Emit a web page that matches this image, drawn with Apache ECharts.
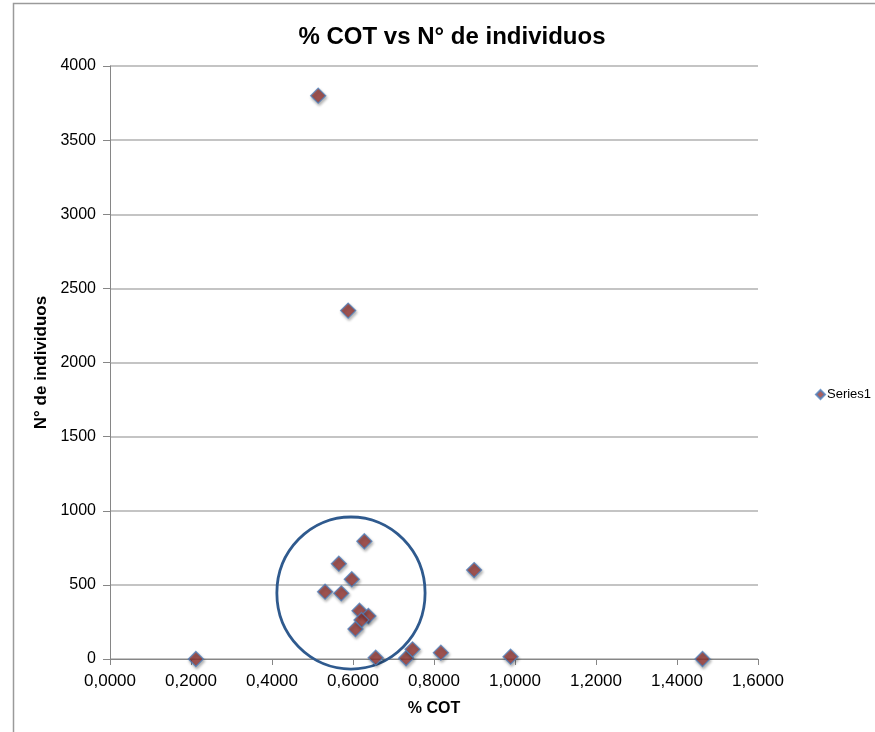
<!DOCTYPE html>
<html>
<head>
<meta charset="utf-8">
<script src="https://cdn.jsdelivr.net/npm/echarts@6/dist/echarts.min.js"></script>
<style>
html,body{margin:0;padding:0;background:#fff;}
#chart{width:875px;height:732px;}
</style>
</head>
<body>
<div id="chart"></div>
<script>
// Data
var cotValues = [0.514, 0.588, 0.212, 0.628, 0.565, 0.597, 0.531, 0.571, 0.616, 0.638, 0.621, 0.606, 0.656, 0.731, 0.747, 0.817, 0.899, 0.989, 1.463];
var individuos = [3800, 2350, 0, 794, 643, 538, 454, 443, 326, 290, 263, 202, 9, 5, 65, 43, 600, 16, 0];
var xTicks = [0, 0.2, 0.4, 0.6, 0.8, 1.0, 1.2, 1.4, 1.6];
var yTicks = [0, 500, 1000, 1500, 2000, 2500, 3000, 3500, 4000];
// highlight ellipse: centre x, centre y, radius x, radius y (data units)
var highlight = [[0.595, 445, 0.183, 513]];

var points = cotValues.map(function (v, i) { return [v, individuos[i]]; });

var chart = echarts.init(document.getElementById('chart'));
var font = 'Liberation Sans, Arial, sans-serif';
chart.setOption({
  animation: false,
  backgroundColor: '#fff',
  title: {
    text: '% COT vs N° de individuos',
    left: 447, top: 20, textAlign: 'center',
    textStyle: { fontFamily: font, fontSize: 24, fontWeight: 'bold', color: '#000' }
  },
  legend: {
    data: ['Series1'],
    orient: 'vertical',
    left: 810, top: 383,
    itemWidth: 9, itemHeight: 9, itemGap: 4,
    textStyle: { fontFamily: font, fontSize: 13, color: '#000', padding: [0, 0, 0, -3] }
  },
  grid: { left: 110, right: 117, top: 66, bottom: 73, containLabel: false },
  xAxis: {
    type: 'value', min: 0, max: 1.6, interval: 0.2,
    name: '% COT', nameLocation: 'middle', nameGap: 42,
    nameTextStyle: { fontFamily: font, fontSize: 16, fontWeight: 'bold', color: '#000' },
    axisLine: { show: true, lineStyle: { color: '#868686', width: 1 } },
    axisTick: { show: true, length: 6, lineStyle: { color: '#868686' } },
    splitLine: { show: false },
    axisLabel: {
      fontFamily: font, fontSize: 17, color: '#000', margin: 14,
      formatter: function (v) { return v.toFixed(4).replace('.', ','); }
    }
  },
  yAxis: {
    type: 'value', min: 0, max: 4000, interval: 500,
    name: 'N° de individuos', nameLocation: 'middle', nameGap: 54, nameRotate: 90,
    nameTextStyle: { fontFamily: font, fontSize: 17, fontWeight: 'bold', color: '#000' },
    axisLine: { show: true, lineStyle: { color: '#868686', width: 1 } },
    axisTick: { show: true, length: 7, lineStyle: { color: '#868686' } },
    splitLine: { show: true, lineStyle: { color: '#b0b0b0', width: 1.5 } },
    axisLabel: {
      fontFamily: font, fontSize: 16, color: '#000', margin: 14,
      formatter: function (v) { return String(v); }
    }
  },
  graphic: [{
    type: 'rect', shape: { x: 13.5, y: 3.5, width: 900, height: 800 },
    style: { fill: 'none', stroke: '#9a9a9a', lineWidth: 1.5 }, z: -1
  }],
  series: [{
    name: 'Series1',
    type: 'scatter',
    symbol: 'diamond',
    symbolSize: 15,
    data: points,
    itemStyle: {
      color: '#953735', borderColor: '#4f81bd', borderWidth: 1.3,
      shadowBlur: 3, shadowColor: 'rgba(0,0,0,0.35)', shadowOffsetX: 1, shadowOffsetY: 2
    },
    z: 3
  }, {
    name: 'circle',
    type: 'custom',
    data: highlight,
    silent: true,
    z: 2,
    renderItem: function (params, api) {
      var c = api.coord([api.value(0), api.value(1)]);
      var s = api.size([api.value(2), api.value(3)]);
      var rx = s[0], ry = s[1];
      var d = 'M' + (c[0] - rx) + ' ' + c[1] +
        ' A' + rx + ' ' + ry + ' 0 1 0 ' + (c[0] + rx) + ' ' + c[1] +
        ' A' + rx + ' ' + ry + ' 0 1 0 ' + (c[0] - rx) + ' ' + c[1] + ' Z';
      return {
        type: 'path',
        shape: { pathData: d },
        style: { fill: 'none', stroke: '#2f5a8e', lineWidth: 2.8 }
      };
    }
  }]
});
</script>
</body>
</html>
